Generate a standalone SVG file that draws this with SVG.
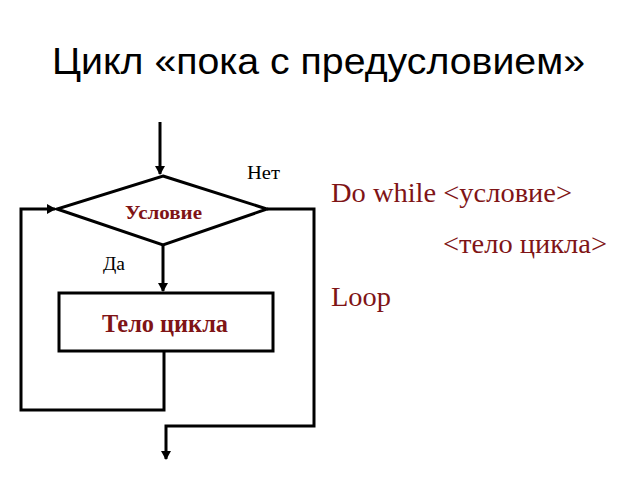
<svg xmlns="http://www.w3.org/2000/svg" width="640" height="480" viewBox="0 0 640 480">
<style>
.ln{fill:none;stroke:#000;stroke-width:3}
.sh{fill:#fff;stroke:#000;stroke-width:3}
.ser{font-family:"Liberation Serif","Times New Roman",serif}
.red{fill:#7f1416}
</style>
<defs>
<marker id="ah" markerWidth="10" markerHeight="10" refX="8" refY="5" orient="auto" markerUnits="userSpaceOnUse">
<path d="M0,0 L9,5 L0,10 Z" fill="#000"/>
</marker>
</defs>
<rect width="640" height="480" fill="#fff"/>
<text x="52" y="74" font-family="Liberation Sans, Arial, sans-serif" font-size="37" fill="#000" textLength="533" lengthAdjust="spacingAndGlyphs">Цикл «пока с предусловием»</text>
<g id="connectors">
<path class="ln" d="M160,122 L160,174" marker-end="url(#ah)"/>
<path class="ln" d="M163,245 L163,291" marker-end="url(#ah)"/>
<path class="ln" d="M164,351 L164,410 L21,410 L21,209 L55,209" marker-end="url(#ah)"/>
<path class="ln" d="M267,209 L314,209 L314,426 L166,426 L166,459" marker-end="url(#ah)"/>
</g>
<g id="cond">
<polygon class="sh" points="163,176 267,209 163,245 57,209"/>
<text x="125" y="219" class="ser red" font-size="18" font-weight="bold" textLength="77" lengthAdjust="spacingAndGlyphs">Условие</text>
</g>
<g id="body">
<rect class="sh" x="59" y="293" width="214" height="58"/>
<text x="102" y="332" class="ser red" font-size="25" font-weight="bold" textLength="126" lengthAdjust="spacingAndGlyphs">Тело цикла</text>
</g>
<g id="labels">
<text x="247" y="179" class="ser" font-size="18" fill="#000" textLength="33" lengthAdjust="spacingAndGlyphs">Нет</text>
<text x="103" y="270" class="ser" font-size="18" fill="#000" textLength="22" lengthAdjust="spacingAndGlyphs">Да</text>
</g>
<g id="code">
<text x="331" y="202" class="ser red" font-size="27" textLength="241" lengthAdjust="spacingAndGlyphs">Do while &lt;условие&gt;</text>
<text x="443" y="253" class="ser red" font-size="27" textLength="164" lengthAdjust="spacingAndGlyphs">&lt;тело цикла&gt;</text>
<text x="331" y="306" class="ser red" font-size="27" textLength="60" lengthAdjust="spacingAndGlyphs">Loop</text>
</g>
</svg>
